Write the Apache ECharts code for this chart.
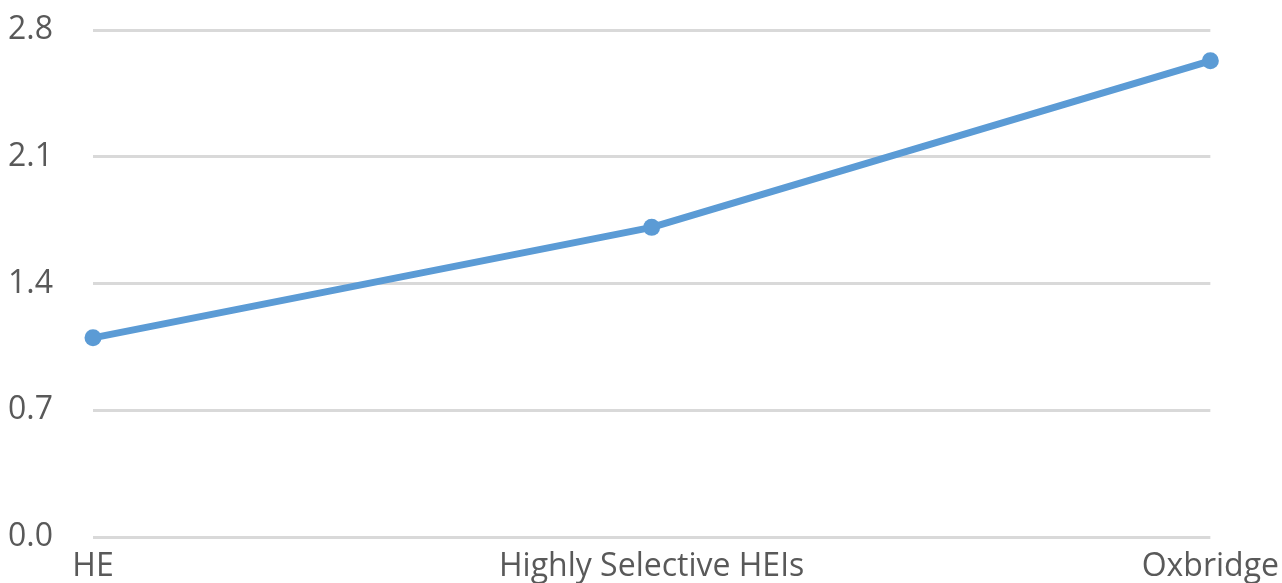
<!DOCTYPE html>
<html>
<head>
<meta charset="utf-8">
<script src="https://cdn.jsdelivr.net/npm/echarts@6/dist/echarts.min.js"></script>
<style>
  html, body { margin: 0; padding: 0; background: #fff; }
  #chart { width: 1282px; height: 583px; }
</style>
</head>
<body>
<div id="chart"></div>
<script>
const categories = ['HE', 'Highly Selective HEIs', 'Oxbridge']
const values = [1.10, 1.71, 2.63]
const yTicks = { min: 0, max: 2.8, interval: 0.7 }

const chart = echarts.init(document.getElementById('chart'))
const textFont = { color: '#595959', fontFamily: 'Open Sans', fontSize: 32 }

const option = {
  animation: false,
  grid: { left: 93, right: 71, top: 30, bottom: 46 },
  xAxis: {
    type: 'category',
    data: categories,
    boundaryGap: false,
    axisLine: { show: false },
    axisTick: { show: false },
    axisLabel: Object.assign({ margin: 14, interval: 0 }, textFont)
  },
  yAxis: {
    type: 'value',
    min: yTicks.min,
    max: yTicks.max,
    interval: yTicks.interval,
    axisLine: { show: false },
    axisTick: { show: false },
    axisLabel: Object.assign({ margin: 40, formatter: v => v.toFixed(1) }, textFont),
    splitLine: { lineStyle: { color: '#d9d9d9', width: 3 } }
  },
  series: [
    {
      type: 'line',
      data: values,
      symbol: 'circle',
      symbolSize: 17,
      lineStyle: { color: '#5b9bd5', width: 7 },
      itemStyle: { color: '#5b9bd5' }
    }
  ]
}
chart.setOption(option)
</script>
</body>
</html>
